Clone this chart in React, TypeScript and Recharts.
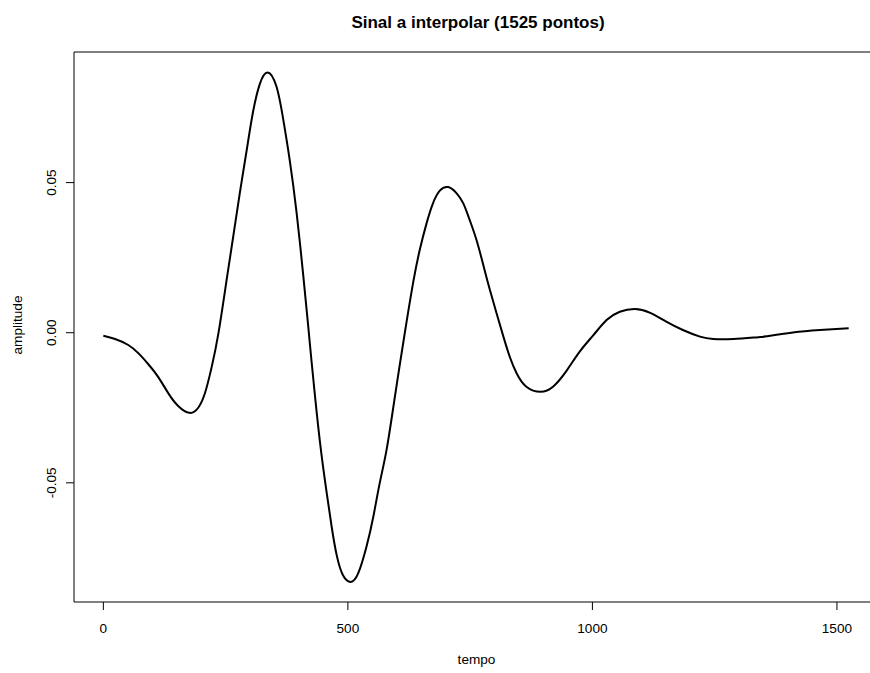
import React from 'react';
import { LineChart, Line, XAxis, YAxis, ReferenceArea } from 'recharts';

// sample positions along the signal (tempo) and the amplitude read at each one
const tempo = [
  0, 24, 51, 72, 92, 112, 133, 153, 176, 194, 208, 221, 235, 252, 266, 279, 293, 306, 320, 336,
  354, 368, 381, 395, 409, 419, 426, 436, 446, 457, 467, 477, 490, 506, 521, 538, 552, 565, 579,
  593, 606, 620, 634, 647, 661, 674, 688, 705, 722, 736, 749, 763, 777, 790, 804, 818, 831, 845,
  865, 894, 920, 947, 974, 1002, 1029, 1056, 1087, 1117, 1151, 1185, 1220, 1247, 1288, 1339, 1356,
  1410, 1465, 1524,
];
const amplitude = [
  -0.001, -0.0021, -0.0041, -0.0069, -0.0105, -0.0147, -0.0202, -0.0244, -0.0267, -0.025, -0.02,
  -0.0118, -0.0005, 0.0175, 0.0325, 0.0465, 0.0607, 0.0735, 0.0829, 0.0867, 0.082, 0.0709, 0.0576,
  0.0402, 0.0187, 0.002, -0.01, -0.0262, -0.0405, -0.0537, -0.0648, -0.074, -0.0808, -0.083,
  -0.0802, -0.0713, -0.0613, -0.0502, -0.0391, -0.0247, -0.0108, 0.0036, 0.0172, 0.0276, 0.0365,
  0.0431, 0.0473, 0.0485, 0.0465, 0.0431, 0.0376, 0.0309, 0.0225, 0.0145, 0.0065, -0.0013, -0.008,
  -0.0135, -0.018, -0.0197, -0.0179, -0.0127, -0.0063, -0.0008, 0.0042, 0.007, 0.0079, 0.0067,
  0.0037, 0.0009, -0.0013, -0.0021, -0.0021, -0.0015, -0.0012, 0.0001, 0.0009, 0.0015,
];

const xTicks = [0, 500, 1000, 1500];
const yTicks = [-0.05, 0, 0.05];
const yTickLabels = ['-0.05', '0.00', '0.05'];

const title = 'Sinal a interpolar (1525 pontos)';
const xLabel = 'tempo';
const yLabel = 'amplitude';

const X_DOMAIN: [number, number] = [-60, 1586];
const Y_DOMAIN: [number, number] = [-0.0897, 0.0935];

const FONT = '"Liberation Sans", Arial, Helvetica, sans-serif';

const data = tempo.map((t, i) => ({ t, v: amplitude[i] }));

const XTick = (props: any) => {
  const { x, payload } = props;
  return (
    <text x={x} y={633} textAnchor="middle" fontSize={13.6} fill="#000" fontFamily={FONT}>
      {payload.value}
    </text>
  );
};

const YTick = (props: any) => {
  const { y, payload } = props;
  const idx = yTicks.indexOf(payload.value);
  const label = idx >= 0 ? yTickLabels[idx] : String(payload.value);
  return (
    <text
      x={56.5}
      y={y}
      transform={`rotate(-90, 56.5, ${y})`}
      textAnchor="middle"
      fontSize={13.6}
      fill="#000"
      fontFamily={FONT}
    >
      {label}
    </text>
  );
};

export default function App() {
  return (
    <div
      style={{
        position: 'absolute',
        left: 0,
        top: 0,
        width: 870,
        height: 673,
        overflow: 'hidden',
        background: '#fff',
      }}
    >
      <LineChart width={900} height={673} data={data} margin={{ top: 52, right: 21, bottom: 0, left: 0 }}>
        <XAxis
          dataKey="t"
          type="number"
          domain={X_DOMAIN}
          ticks={xTicks}
          axisLine={false}
          tickLine={{ stroke: '#000' }}
          tickSize={8}
          height={71}
          tick={<XTick />}
        />
        <YAxis
          type="number"
          domain={Y_DOMAIN}
          ticks={yTicks}
          axisLine={false}
          tickLine={{ stroke: '#000' }}
          tickSize={8}
          width={74}
          tick={<YTick />}
        />
        <ReferenceArea
          x1={X_DOMAIN[0]}
          x2={X_DOMAIN[1]}
          y1={Y_DOMAIN[0]}
          y2={Y_DOMAIN[1]}
          fill="none"
          stroke="#000"
          strokeWidth={1}
          ifOverflow="visible"
        />
        <Line
          type="natural"
          dataKey="v"
          stroke="#000"
          strokeWidth={2}
          dot={false}
          isAnimationActive={false}
        />
      </LineChart>
      <svg
        width={870}
        height={673}
        style={{ position: 'absolute', left: 0, top: 0, pointerEvents: 'none' }}
      >
        <text x={478} y={28} textAnchor="middle" fontSize={17} fontWeight="bold" fontFamily={FONT} fill="#000">
          {title}
        </text>
        <text x={476.5} y={664} textAnchor="middle" fontSize={13.6} fontFamily={FONT} fill="#000">
          {xLabel}
        </text>
        <text
          x={21.5}
          y={325}
          transform="rotate(-90, 21.5, 325)"
          textAnchor="middle"
          fontSize={13.6}
          fontFamily={FONT}
          fill="#000"
        >
          {yLabel}
        </text>
      </svg>
    </div>
  );
}
